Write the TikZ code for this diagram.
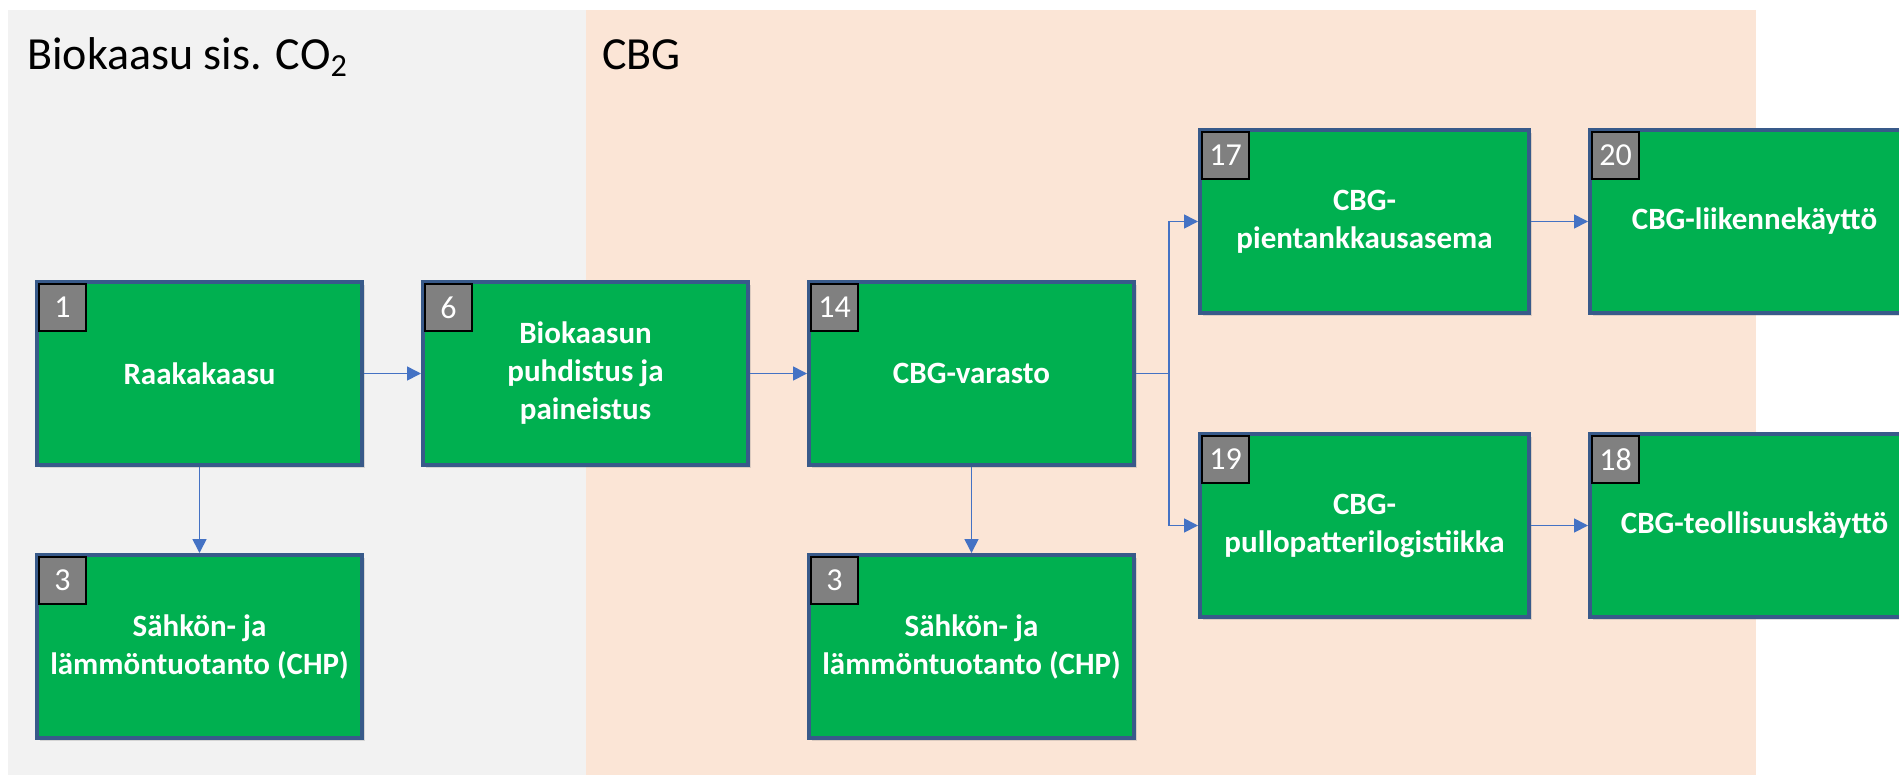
\documentclass[tikz,border=0pt]{standalone}
\usepackage{fontspec}
\setmainfont{Carlito}
\usepackage{tikz}
\usetikzlibrary{arrows.meta, positioning, shadows}
\definecolor{boxgreen}{HTML}{00B050}
\definecolor{boxedge}{HTML}{385A8A}
\definecolor{flowblue}{HTML}{4472C4}
\definecolor{panelgray}{HTML}{F2F2F2}
\definecolor{panelorange}{HTML}{FBE5D6}
\tikzstyle{link} = [flowblue, line width=0.8pt, -{Triangle[length=7pt,width=7pt]}]

\begin{document}
\begin{tikzpicture}[x=0.5pt, y=-0.5pt, node distance=43pt and 28.5pt,
	main node/.style={rectangle, minimum width=162.5pt, minimum height=91.5pt, align=center, draw=boxedge, line width=2pt, fill=boxgreen, text=white, font=\bfseries\fontsize{15.5pt}{19pt}\selectfont, drop shadow={opacity=0.25, shadow xshift=1.5pt, shadow yshift=-1.5pt}},
	wide node/.style={main node, minimum width=164.5pt},
	badge/.style={rectangle, anchor=north west, minimum size=23.5pt, inner sep=0pt, draw=black, line width=1pt, fill=black!50, text=white, font=\fontsize{16pt}{16pt}\selectfont},
	panel title/.style={anchor=base west, inner sep=0pt, font=\fontsize{23pt}{23pt}\selectfont}]
	
	\useasboundingbox (0,0) rectangle (1899,778);
	\fill[panelgray] (8,10) rectangle (586,775);
	\fill[panelorange] (586,10) rectangle (1756,775);
	\node[panel title] (t1) at (27,69) {Biokaasu sis. CO\textsubscript{2}};
	\node[panel title] (t2) at (602,69) {CBG};
	
	\node[main node] (1) at (199.5,373.5) {Raakakaasu};
	\node[main node] (6) [right=of 1] {Biokaasun\\puhdistus ja\\paineistus};
	\node[main node] (14) [right=of 6] {CBG-varasto};
	\node[main node] (3a) [below=of 1] {Sähkön- ja\\lämmöntuotanto (CHP)};
	\node[main node] (3b) [below=of 14] {Sähkön- ja\\lämmöntuotanto (CHP)};
	\node[wide node] (17) [right=31pt of 14, yshift=76pt] {CBG-\\pientankkausasema};
	\node[wide node] (19) [right=31pt of 14, yshift=-76pt] {CBG-\\pullopatterilogistiikka};
	\node[wide node] (20) [right=of 17] {CBG-liikennekäyttö};
	\node[wide node] (18) [right=of 19] {CBG-teollisuuskäyttö};
	
	\foreach \b/\n in {1/1, 6/6, 14/14, 3a/3, 3b/3, 17/17, 19/19, 20/20, 18/18}
		\node[badge] (\b-nr) at ([shift={(1.5pt,-1.5pt)}]\b.north west) {\n};
	
	\coordinate[right=16.5pt of 14.east] (fork);
	\draw[link] (1) -- (6);
	\draw[link] (6) -- (14);
	\draw[link] (1) -- (3a);
	\draw[link] (14) -- (3b);
	\draw[link, -] (14) -- (fork);
	\draw[link] (fork) |- (17);
	\draw[link] (fork) |- (19);
	\draw[link] (17) -- (20);
	\draw[link] (19) -- (18);
\end{tikzpicture}
\end{document}
